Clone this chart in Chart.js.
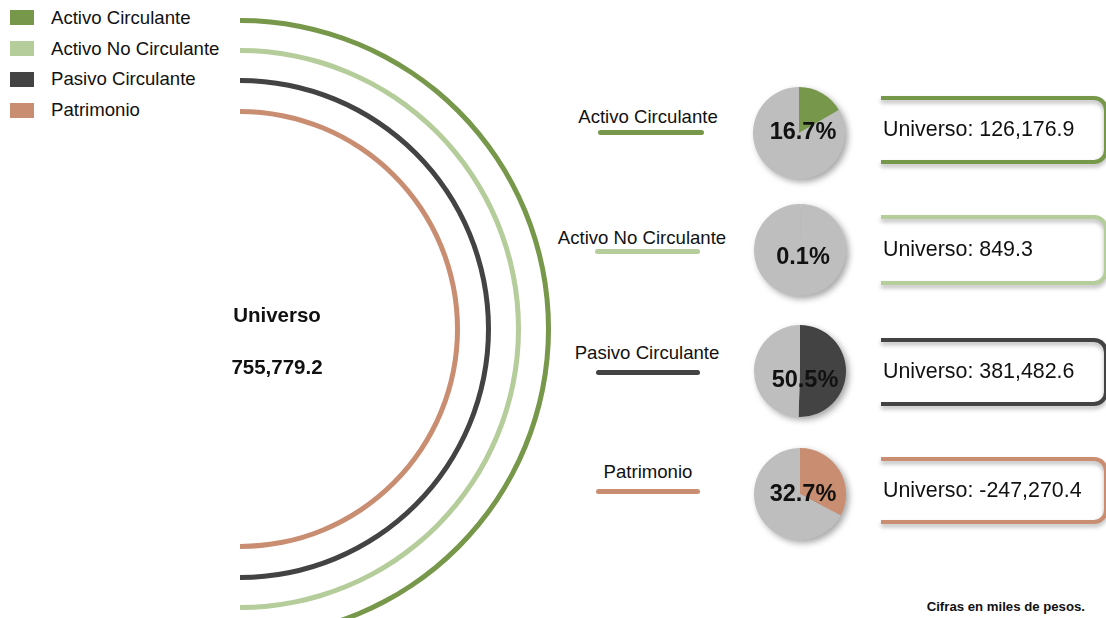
<!DOCTYPE html>
<html>
<head>
<meta charset="utf-8">
<script src="https://cdn.jsdelivr.net/npm/chart.js@4.4.1/dist/chart.umd.min.js"></script>
<style>
  html, body { margin: 0; padding: 0; width: 1106px; height: 618px; overflow: hidden; background: #fff; font-family: "Liberation Sans", Arial, sans-serif; color: #111; }
  .abs { position: absolute; }
  .legend-sq { position: absolute; left: 10px; width: 24px; height: 15px; }
  .legend-tx { position: absolute; left: 51px; font-size: 18.6px; line-height: 20px; white-space: nowrap; }
  .cat-label { position: absolute; font-size: 18.6px; line-height: 20px; white-space: nowrap; transform: translate(-50%, -50%); }
  .cat-line { position: absolute; height: 5px; border-radius: 3px; }
  .pie { position: absolute; filter: drop-shadow(3px 3px 3px rgba(0,0,0,0.35)); }
  .pct { position: absolute; font-weight: bold; font-size: 23.5px; line-height: 26px; transform: translate(-50%, -50%); white-space: nowrap; }
  .box { position: absolute; left: 881px; width: 227px; border: 4px solid; border-left: none; border-radius: 0 14px 14px 0; box-sizing: border-box; filter: drop-shadow(0 3px 2px rgba(0,0,0,0.28)); }
  .boxtxt { position: absolute; left: 883px; font-size: 21.4px; white-space: nowrap; transform: translateY(-50%); }
</style>
</head>
<body>
<canvas id="main" class="abs"></canvas>
<div id="overlay"></div>
<script>
// ---------- data ----------
const categories = ['Activo Circulante', 'Activo No Circulante', 'Pasivo Circulante', 'Patrimonio'];
const percentages = [16.7, 0.1, 50.5, 32.7];
const universoValues = [126176.9, 849.3, 381482.6, -247270.4];
const totalLabel = 'Universo';
const totalValue = 755779.2;
const footnote = 'Cifras en miles de pesos.';

// ---------- styles / layout ----------
const colors = ['#77984A', '#B5CC9B', '#434343', '#C98E72'];
const restColor = '#BEBEBE';
const ringWeight = 5;
const gapWeights = [25, 25, 26];
const legendRowY = [10, 41, 71.5, 102.5];
const labelPos = [[648, 117], [642, 238], [647, 353], [648, 472]];
const linePos = [[598, 704, 130], [595, 700, 249], [596, 700, 370], [596, 700, 489]];
const pieCenters = [[799, 133], [800, 250], [800, 371], [800, 494]];
const pieRadius = 46;
const pctPos = [[803, 131], [803, 256], [805, 379], [803, 493]];
const boxPos = [[96, 68], [215, 70], [338, 68], [457, 67]];

const fmt = v => v.toLocaleString('en-US', { minimumFractionDigits: 1, maximumFractionDigits: 1 });
const overlay = document.getElementById('overlay');
function add(html) { overlay.insertAdjacentHTML('beforeend', html); }

// ---------- main semicircle rings (doughnut) ----------
const R = 311;
const mainCanvas = document.getElementById('main');
mainCanvas.width = R; mainCanvas.height = 2 * R;
mainCanvas.style.left = '240px';
mainCanvas.style.top = (329 - R) + 'px';
mainCanvas.style.width = R + 'px';
mainCanvas.style.height = (2 * R) + 'px';

const ringDatasets = [];
categories.forEach((c, i) => {
  ringDatasets.push({ label: c, data: [1], backgroundColor: colors[i], weight: ringWeight, borderWidth: 0 });
  if (i < categories.length - 1) {
    ringDatasets.push({ label: 'gap' + i, data: [1], backgroundColor: 'rgba(0,0,0,0)', weight: gapWeights[i], borderWidth: 0 });
  }
});
const totalW = ringWeight * categories.length + gapWeights.reduce((a, b) => a + b, 0);
const innerR = R - totalW;

new Chart(mainCanvas, {
  type: 'doughnut',
  data: { labels: ['Universo'], datasets: ringDatasets },
  options: {
    responsive: false, animation: false, events: [], devicePixelRatio: 1,
    rotation: 0, circumference: 180,
    cutout: (innerR / R * 100) + '%',
    layout: { padding: 0 },
    plugins: { legend: { display: false }, tooltip: { enabled: false } }
  }
});

// ---------- legend ----------
categories.forEach((c, i) => {
  add(`<div class="legend-sq" style="top:${legendRowY[i]}px;background:${colors[i]}"></div>`);
  add(`<div class="legend-tx" style="top:${legendRowY[i] - 2.5}px">${c}</div>`);
});

// ---------- center text ----------
add(`<div class="abs" style="left:277px;top:315px;transform:translate(-50%,-50%);font-weight:bold;font-size:20.5px;">${totalLabel}</div>`);
add(`<div class="abs" style="left:277px;top:367px;transform:translate(-50%,-50%);font-weight:bold;font-size:20.5px;">${fmt(totalValue)}</div>`);

// ---------- categories: labels, lines, pies, boxes ----------
categories.forEach((c, i) => {
  add(`<div class="cat-label" style="left:${labelPos[i][0]}px;top:${labelPos[i][1]}px">${c}</div>`);
  const lp = linePos[i];
  add(`<div class="cat-line" style="left:${lp[0]}px;width:${lp[1] - lp[0]}px;top:${lp[2]}px;background:${colors[i]}"></div>`);

  const size = pieRadius * 2;
  const cv = document.createElement('canvas');
  cv.className = 'pie';
  cv.width = size; cv.height = size;
  cv.style.left = (pieCenters[i][0] - pieRadius) + 'px';
  cv.style.top = (pieCenters[i][1] - pieRadius) + 'px';
  cv.style.width = size + 'px'; cv.style.height = size + 'px';
  overlay.appendChild(cv);
  new Chart(cv, {
    type: 'pie',
    data: { labels: [c, 'Resto'], datasets: [{ data: [percentages[i], 100 - percentages[i]], backgroundColor: [colors[i], restColor], borderWidth: 0 }] },
    options: {
      responsive: false, animation: false, events: [], devicePixelRatio: 1,
      layout: { padding: 0 },
      plugins: { legend: { display: false }, tooltip: { enabled: false } }
    }
  });
  add(`<div class="pct" style="left:${pctPos[i][0]}px;top:${pctPos[i][1]}px">${percentages[i].toFixed(1)}%</div>`);

  const b = boxPos[i];
  add(`<div class="box" style="top:${b[0]}px;height:${b[1]}px;border-color:${colors[i]}"></div>`);
  add(`<div class="boxtxt" style="top:${b[0] + b[1] / 2 - 1}px">Universo: ${fmt(universoValues[i])}</div>`);
});

add(`<div class="abs" style="right:21px;top:599px;font-weight:bold;font-size:13.2px;white-space:nowrap;">${footnote}</div>`);
</script>
</body>
</html>
